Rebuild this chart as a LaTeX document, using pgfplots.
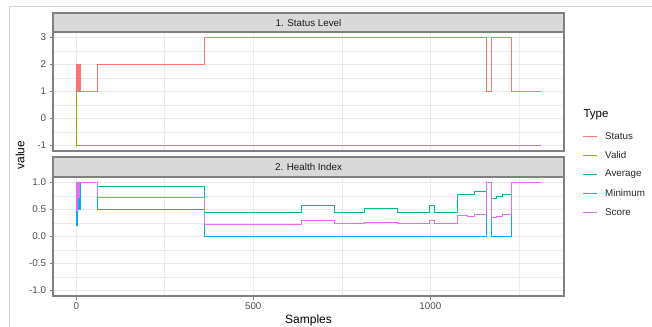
\documentclass[border=0pt]{standalone}
\usepackage{fontspec}
\setmainfont{Liberation Sans}
\usepackage{pgfplots}
\pgfplotsset{compat=1.18}
\definecolor{cStatus}{HTML}{F8766D}
\definecolor{cValid}{HTML}{A3A500}
\definecolor{cAverage}{HTML}{00BF7D}
\definecolor{cMinimum}{HTML}{00B0F6}
\definecolor{cScore}{HTML}{E76BF3}
\definecolor{gridc}{HTML}{EBEBEB}
\definecolor{borderc}{HTML}{808080}
\definecolor{stripc}{HTML}{D9D9D9}
\definecolor{tickc}{HTML}{4D4D4D}
\definecolor{framec}{HTML}{D4D4D4}
\newcommand{\smallf}{\fontsize{9.8bp}{11bp}\selectfont}
\pgfplotsset{facet/.style={
  scale only axis, width=511bp, height=119bp,
  xmin=-65.6, xmax=1377.6,
  xtick={0,500,1000}, minor xtick={250,750,1250},
  grid=both,
  major grid style={color=gridc, line width=0.9bp},
  minor grid style={color=gridc, line width=0.5bp},
  axis line style={draw=borderc, line width=1.6bp},
  tick style={color=borderc, line width=0.9bp},
  major tick length=3.5bp, minor tick length=0pt,
  tick align=outside, tick pos=left,
  /pgf/number format/assume math mode=true,
  ticklabel style={font=\smallf, color=tickc},
  every axis plot/.append style={line width=1bp, const plot},
}}
\begin{document}
\begin{tikzpicture}
\useasboundingbox (0,0) rectangle (652bp,-327bp);
\draw[framec, line width=1bp] (9bp,-330bp) -- (9bp,-6bp) -- (655bp,-6bp);
% Panel 1
\begin{axis}[facet, at={(53bp,-151bp)}, anchor=south west,
  ymin=-1.2, ymax=3.2, ytick={-1,0,1,2,3}, yticklabels={-1,0,1,2,3},
  minor ytick={-0.5,0.5,1.5,2.5},
  xticklabels={}, x tick style={draw=none}]
\addplot[cStatus] coordinates {(0,1)(1,2)(2,1)(3,2)(4,1)(5,2)(6,1)(7,2)(8,1)(9,2)(10,2)(11,1)(60,2)(361,3)(1158,1)(1172,3)(1229,1)(1312,1)};
\addplot[cValid] coordinates {(0,1)(1,-1)(1312,-1)};
\end{axis}
% Panel 2
\begin{axis}[facet, at={(53bp,-296bp)}, anchor=south west,
  ymin=-1.1, ymax=1.1, ytick={-1,-0.5,0,0.5,1}, yticklabels={-1.0,-0.5,0.0,0.5,1.0},
  minor ytick={-0.75,-0.25,0.25,0.75},
  xticklabels={0,500,1000}]
\addplot[cAverage] coordinates {(0,1)(60,0.925)(361,0.44)(636,0.58)(730,0.445)(815,0.51)(907,0.445)(998,0.58)(1011,0.445)(1077,0.78)(1106,0.77)(1124,0.83)(1158,1)(1172,0.70)(1186,0.735)(1203,0.77)(1229,1)(1312,1)};
\addplot[cMinimum] coordinates {(0,0.47)(2,0.2)(5,0.5)(7,0.7)(9,0.5)(11,0.7)(13,1)(60,0.5)(361,0)(1158,1)(1172,0)(1229,1)(1312,1)};
\addplot[cScore] coordinates {(0,1)(2,0.48)(4,1)(6,0.72)(8,1)(60,0.72)(361,0.226)(636,0.287)(730,0.232)(815,0.26)(907,0.232)(998,0.287)(1011,0.232)(1077,0.39)(1106,0.37)(1124,0.41)(1158,1)(1172,0.355)(1186,0.375)(1203,0.41)(1229,1)(1312,1)};
\end{axis}
% strips
\draw[fill=stripc, draw=borderc, line width=1.6bp] (53bp,-13bp) rectangle (564bp,-32bp);
\node[font=\smallf, text=black!90] at (308.5bp,-22.5bp) {1. Status Level};
\draw[fill=stripc, draw=borderc, line width=1.6bp] (53bp,-157bp) rectangle (564bp,-177bp);
\node[font=\smallf, text=black!90] at (308.5bp,-167bp) {2. Health Index};
% axis titles
\node[font=\fontsize{12bp}{14bp}\selectfont, rotate=90] at (20bp,-155bp) {value};
\node[font=\fontsize{12bp}{14bp}\selectfont] at (308.5bp,-320bp) {Samples};
% legend
\node[font=\fontsize{11.5bp}{13bp}\selectfont, anchor=west] at (580bp,-115bp) {Type};
\foreach \c/\t/\y in {cStatus/Status/136, cValid/Valid/155, cAverage/Average/174, cMinimum/Minimum/193, cScore/Score/212}{
  \draw[\c, line width=1bp] (583bp,-\y bp) -- (597bp,-\y bp);
  \node[font=\smallf, text=black!85, anchor=west, inner sep=0pt] at (605bp,-\y bp) {\t};
}
\end{tikzpicture}
\end{document}
